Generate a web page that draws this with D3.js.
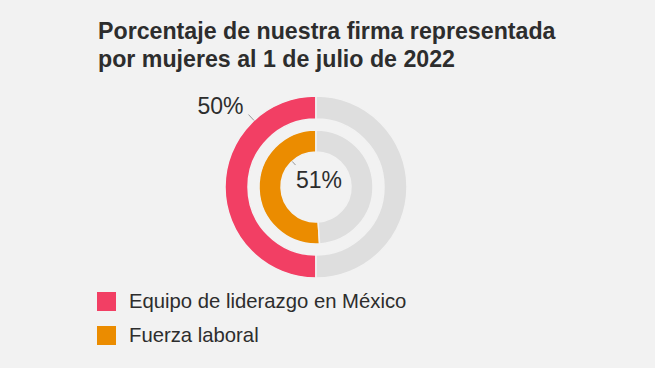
<!DOCTYPE html>
<html>
<head>
<meta charset="utf-8">
<script src="https://cdn.jsdelivr.net/npm/d3@7"></script>
<style>
	html, body { margin: 0; padding: 0; background: #f2f2f2; }
	svg { display: block; font-family: "Liberation Sans", Arial, Helvetica, sans-serif; }
</style>
</head>
<body>
<div id="chart"></div>
<script>
var titleLines = ['Porcentaje de nuestra firma representada', 'por mujeres al 1 de julio de 2022']
var seriesNames = ['Equipo de liderazgo en México', 'Fuerza laboral']
var seriesValues = [50, 51]
var seriesColors = ['#f23f64', '#eb8c00']
var restColor = '#dedede'

var width = 655, height = 368
var cx = 316, cy = 187
// ring radii: [outer, inner] per series
var rings = [[91, 68], [57, 35]]
var labelAngle = -0.75

var svg = d3.select('#chart')
	.append('svg')
	.attr('width', width)
	.attr('height', height)

svg.append('rect')
	.attr('width', width)
	.attr('height', height)
	.attr('fill', '#f2f2f2')

svg.selectAll('text.title')
	.data(titleLines)
	.enter()
	.append('text')
	.attr('class', 'title')
	.attr('x', 98)
	.attr('y', function(d, i) { return 39 + i * 28 })
	.attr('fill', '#2d2d2d')
	.style('font-size', '23.2px')
	.style('font-weight', 700)
	.text(function(d) { return d })

var pie = d3.pie()
	.sort(null)
	.startAngle(0)
	.endAngle(-2 * Math.PI)

var g = svg.append('g')
	.attr('transform', 'translate(' + cx + ',' + cy + ')')

seriesValues.forEach(function(v, i) {
	var arc = d3.arc()
		.outerRadius(rings[i][0])
		.innerRadius(rings[i][1])
	g.append('g')
		.selectAll('path')
		.data(pie([v, 100 - v]))
		.enter()
		.append('path')
		.attr('d', arc)
		.attr('fill', function(d, j) { return j === 0 ? seriesColors[i] : restColor })
		.attr('stroke', '#f2f2f2')
		.attr('stroke-width', 1.5)
})

// leader lines + labels
g.append('line')
	.attr('x1', Math.sin(labelAngle) * rings[0][0])
	.attr('y1', -Math.cos(labelAngle) * rings[0][0])
	.attr('x2', Math.sin(labelAngle) * (rings[0][0] + 8))
	.attr('y2', -Math.cos(labelAngle) * (rings[0][0] + 8))
	.attr('stroke', '#999')
	.attr('stroke-width', 1)
g.append('text')
	.attr('x', Math.sin(labelAngle) * (rings[0][0] + 8) - 5)
	.attr('y', -Math.cos(labelAngle) * (rings[0][0] + 8) - 1)
	.attr('text-anchor', 'end')
	.attr('fill', '#2d2d2d')
	.style('font-size', '23px')
	.text(seriesValues[0] + '%')

g.append('line')
	.attr('x1', Math.sin(labelAngle) * rings[1][1])
	.attr('y1', -Math.cos(labelAngle) * rings[1][1])
	.attr('x2', Math.sin(labelAngle) * (rings[1][1] - 5))
	.attr('y2', -Math.cos(labelAngle) * (rings[1][1] - 5))
	.attr('stroke', '#999')
	.attr('stroke-width', 1)
g.append('text')
	.attr('x', 3)
	.attr('y', 1)
	.attr('text-anchor', 'middle')
	.attr('fill', '#2d2d2d')
	.style('font-size', '23px')
	.text(seriesValues[1] + '%')

// legend
var legend = svg.selectAll('g.legend')
	.data(seriesNames)
	.enter()
	.append('g')
	.attr('class', 'legend')
	.attr('transform', function(d, i) { return 'translate(97,' + (292 + i * 34) + ')' })
legend.append('rect')
	.attr('width', 19)
	.attr('height', 19)
	.attr('fill', function(d, i) { return seriesColors[i] })
legend.append('text')
	.attr('x', 32)
	.attr('y', 16)
	.attr('fill', '#2d2d2d')
	.style('font-size', '20.3px')
	.text(function(d) { return d })
</script>
</body>
</html>
